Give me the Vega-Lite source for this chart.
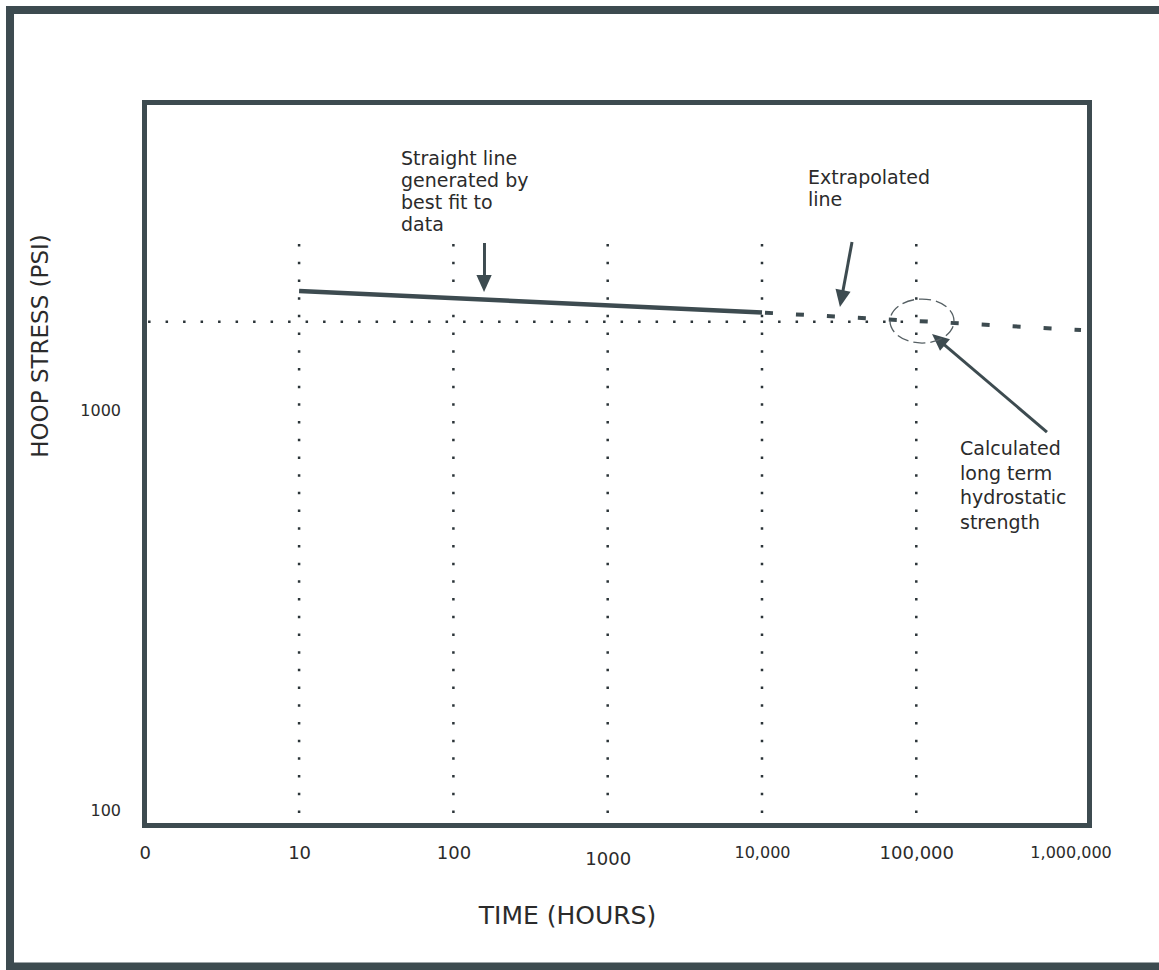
{
  "$schema": "https://vega.github.io/schema/vega-lite/v6.json",
  "width": 945,
  "height": 723,
  "autosize": {"type": "none"},
  "padding": {"left": 144.5, "top": 102.5, "right": 69.5, "bottom": 144.5},
  "background": "white",
  "config": {"view": {"stroke": "#3d4b50", "strokeWidth": 5}, "font": "DejaVu Sans"},
  "datasets": {
    "frame": [{"x": 0.1338, "x2": 4090000, "y": 40.62, "y2": 10000}],
    "vlines": [
      {"x": 10, "y": 2600, "y2": 91.47},
      {"x": 100, "y": 2600, "y2": 91.47},
      {"x": 1000, "y": 2600, "y2": 91.47},
      {"x": 10000, "y": 2600, "y2": 91.47},
      {"x": 100000, "y": 2600, "y2": 91.47}
    ],
    "hline": [{"x": 1.05, "x2": 100000, "y": 1663}],
    "fit": [{"x": 10, "x2": 10000, "y": 1984, "y2": 1753}],
    "extrap": [{"x": 10000, "x2": 1168000, "y": 1753, "y2": 1585}],
    "shafts": [
      {"x": 159, "x2": 159, "y": 2616, "y2": 2113},
      {"x": 38316, "x2": 33000, "y": 2630, "y2": 1928},
      {"x": 703000, "x2": 142450, "y": 881, "y2": 1487.6}
    ],
    "heads": [
      {"x": 158, "y": 2071, "a": 0},
      {"x": 32750, "y": 1899, "a": 10.5},
      {"x": 139300, "y": 1500.5, "a": 130.4}
    ],
    "ellipse": [{"x": 108900, "y": 1669}],
    "notes": [
      {"x": 45.76, "y": 4098, "t": "Straight line\ngenerated by\nbest fit to\ndata"},
      {"x": 19870, "y": 3673, "t": "Extrapolated\nline"}
    ],
    "notes2": [
      {"x": 191980, "y": 771.7, "t": "Calculated\nlong term\nhydrostatic\nstrength"}
    ]
  },
  "encoding": {
    "x": {
      "field": "x",
      "type": "quantitative",
      "scale": {"type": "log", "domain": [0.9956, 1326000], "nice": false},
      "axis": {
        "values": [1, 10, 100, 1000, 10000, 100000, 1000000],
        "labelExpr": "datum.value < 2 ? '0' : datum.value < 5000 ? format(datum.value, 'd') : format(datum.value, ',d')",
        "domain": false,
        "ticks": false,
        "grid": false,
        "labelFlush": false,
        "labelOverlap": false,
        "labelFont": "DejaVu Sans",
        "labelFontSize": {"condition": {"test": "datum.value == 10000 || datum.value == 1000000", "value": 16}, "value": 18},
        "labelPadding": {"condition": {"test": "datum.value == 1000", "value": 25}, "value": 19},
        "labelColor": "#2b2b2b",
        "title": "TIME (HOURS)",
        "titleFont": "DejaVu Sans",
        "titleFontSize": 25,
        "titleFontWeight": "normal",
        "titleColor": "#2b2b2b",
        "titleX": 422.5,
        "titleY": 89.5,
        "titleAlign": "center",
        "titleBaseline": "middle"
      }
    },
    "y": {
      "field": "y",
      "type": "quantitative",
      "scale": {"type": "log", "domain": [91.47, 5873], "nice": false},
      "axis": {
        "values": [100, 1000],
        "labelExpr": "format(datum.value, 'd')",
        "domain": false,
        "ticks": false,
        "grid": false,
        "labelFlush": false,
        "labelFont": "DejaVu Sans",
        "labelFontSize": 16,
        "labelPadding": 24,
        "labelColor": "#2b2b2b",
        "title": "HOOP STRESS (PSI)",
        "titleFont": "DejaVu Sans",
        "titleFontSize": 23,
        "titleFontWeight": "normal",
        "titleColor": "#2b2b2b",
        "titleAngle": -90,
        "titleX": -104.5,
        "titleY": 243,
        "titleAlign": "center",
        "titleBaseline": "middle"
      }
    }
  },
  "layer": [
    {
      "data": {"name": "frame"},
      "mark": {"type": "rect", "fillOpacity": 0, "stroke": "#3d4b50", "strokeWidth": 8},
      "encoding": {"x2": {"field": "x2"}, "y2": {"field": "y2"}}
    },
    {
      "data": {"name": "vlines"},
      "mark": {"type": "rule", "color": "#2b3438", "strokeWidth": 2.5, "strokeDash": [2.5, 15.2], "strokeCap": "butt"},
      "encoding": {"y2": {"field": "y2"}}
    },
    {
      "data": {"name": "hline"},
      "mark": {"type": "rule", "color": "#2b3438", "strokeWidth": 2.5, "strokeDash": [2.5, 15], "strokeCap": "butt"},
      "encoding": {"x2": {"field": "x2"}}
    },
    {
      "data": {"name": "fit"},
      "mark": {"type": "rule", "color": "#3d4b50", "strokeWidth": 4.5},
      "encoding": {"x2": {"field": "x2"}, "y2": {"field": "y2"}}
    },
    {
      "data": {"name": "extrap"},
      "mark": {"type": "rule", "color": "#3d4b50", "strokeWidth": 4, "strokeDash": [8, 23], "strokeDashOffset": -3, "strokeCap": "butt"},
      "encoding": {"x2": {"field": "x2"}, "y2": {"field": "y2"}}
    },
    {
      "data": {"name": "shafts"},
      "mark": {"type": "rule", "color": "#3d4b50", "strokeWidth": 3},
      "encoding": {"x2": {"field": "x2"}, "y2": {"field": "y2"}}
    },
    {
      "data": {"name": "heads"},
      "mark": {"type": "point", "shape": "M0,1L-0.9,-1L0.9,-1Z", "size": 289, "filled": true, "color": "#3d4b50", "opacity": 1},
      "encoding": {"angle": {"field": "a", "type": "quantitative", "scale": null}}
    },
    {
      "data": {"name": "ellipse"},
      "mark": {"type": "point", "shape": "M-1,0A1,0.6875,0,1,0,1,0A1,0.6875,0,1,0,-1,0Z", "size": 4096, "filled": false, "color": "#555f63", "strokeWidth": 1.3, "strokeDash": [12, 5], "opacity": 1}
    },
    {
      "data": {"name": "notes"},
      "mark": {"type": "text", "align": "left", "baseline": "alphabetic", "lineBreak": "\n", "lineHeight": 22, "fontSize": 19, "font": "DejaVu Sans", "color": "#2b2b2b"},
      "encoding": {"text": {"field": "t"}}
    },
    {
      "data": {"name": "notes2"},
      "mark": {"type": "text", "align": "left", "baseline": "alphabetic", "lineBreak": "\n", "lineHeight": 24.5, "fontSize": 19, "font": "DejaVu Sans", "color": "#2b2b2b"},
      "encoding": {"text": {"field": "t"}}
    }
  ]
}
